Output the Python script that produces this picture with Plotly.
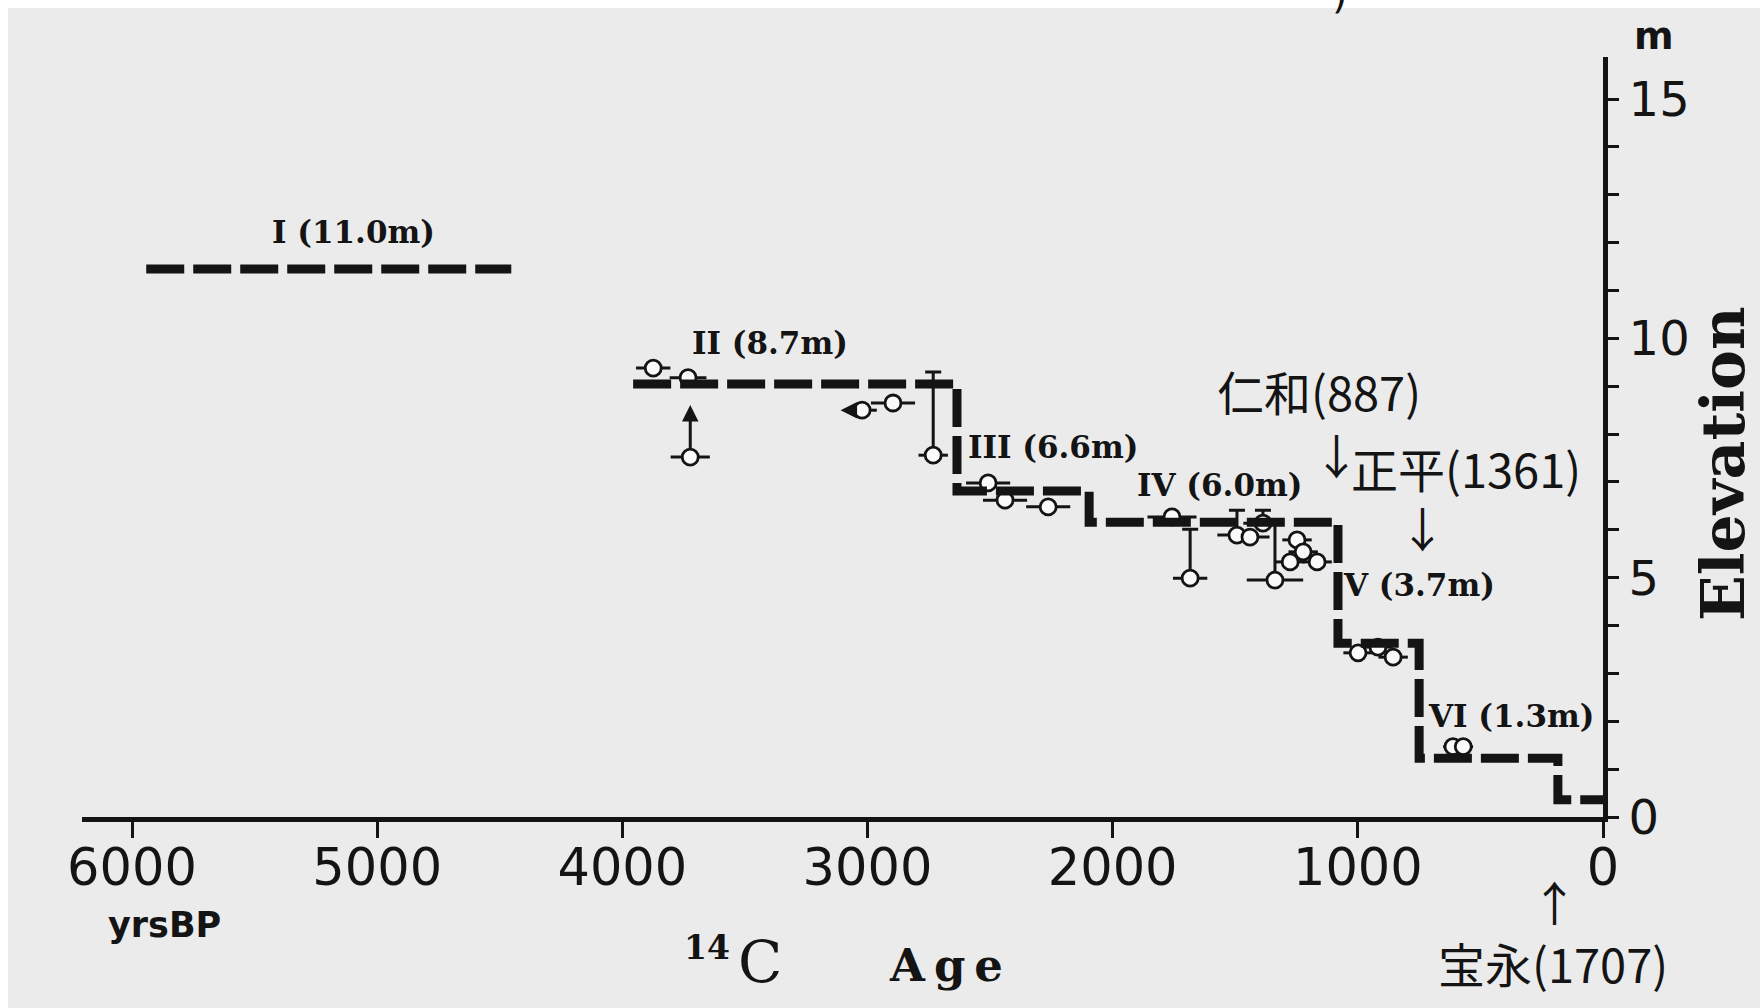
import plotly.graph_objects as go

# ---------------- data ----------------
# stage I (isolated dashed level)
stageI_age = [5942, 4453]
stageI_elev = [11.45, 11.45]

# stepped dashed sea-level / uplift curve, stages II .. VI and present
step_age = [3956, 2635, 2635, 2096, 2096, 1081, 1081, 750, 750, 184, 184, 0]
step_elev = [9.05, 9.05, 6.81, 6.81, 6.16, 6.16, 3.63, 3.63, 1.23, 1.23, 0.36, 0.36]

# dated samples (14C age yrs BP, elevation m, +/- age error)
pt_age = [3874, 3732, 3723, 3022, 2896, 2732, 2508, 2439, 2263, 1758, 1684,
          1493, 1440, 1387, 1248, 1223, 1276, 1166, 1338, 999, 918, 856, 612, 570]
pt_elev = [9.38, 9.18, 7.52, 8.50, 8.65, 7.56, 6.98, 6.62, 6.48, 6.27, 4.99,
           5.89, 5.85, 6.14, 5.79, 5.54, 5.33, 5.33, 4.95, 3.43, 3.55, 3.34, 1.47, 1.47]
pt_err = [70, 75, 80, 60, 90, 60, 90, 90, 90, 100, 70,
          80, 80, 80, 60, 60, 60, 60, 115, 60, 60, 60, 40, 40]

# samples with an upper-limit bar (age, elevation, length of bar upward)
bar_age = [2732, 1684, 1338, 1493, 1387]
bar_elev = [7.56, 4.99, 4.95, 5.89, 6.14]
bar_up = [1.74, 1.02, 1.19, 0.52, 0.27]

# arrows on samples: (from age, from elev) -> (to age, to elev)
arrow_from_age = [3723, 3022]
arrow_from_elev = [7.52, 8.50]
arrow_to_age = [3723, 3110]
arrow_to_elev = [8.61, 8.50]

# stage labels
stage_text = ["I (11.0m)", "II (8.7m)", "III (6.6m)", "IV (6.0m)", "V (3.7m)", "VI (1.3m)"]
stage_age = [5098, 3397, 2243, 1566, 750, 375]
stage_elev = [12.22, 9.90, 7.73, 6.94, 4.85, 2.11]

# historical events (age yrs BP, elevation m where the text sits)
event_text = ["仁和(887)", "↓", "正平(1361)", "↓", "↑", "宝永(1707)"]
event_age = [1158, 1089, 559, 738, 196, 204]
event_elev = [8.92, 7.60, 7.31, 6.06, -1.75, -3.05]

x_tickvals = [6000, 5000, 4000, 3000, 2000, 1000, 0]
x_ticktext = ["6000", "5000", "4000", "3000", "2000", "1000", "0"]
y_tickvals = [0, 5, 10, 15]
y_ticktext = ["0", "5", "10", "15"]

X_RANGE = [6204, 0]
Y_RANGE = [0, 15.88]

# ---------------- style ----------------
BG = "#ebebeb"
INK = "#141414"
W, H = 1760, 1008
PLOT_L, PLOT_R, PLOT_T, PLOT_B = 82, 1603, 57, 817


def px(xp):
    return (xp - PLOT_L) / (PLOT_R - PLOT_L)


def py(yp):
    return (PLOT_B - yp) / (PLOT_B - PLOT_T)


def age_to_paper(a):
    return (X_RANGE[0] - a) / (X_RANGE[0] - X_RANGE[1])


def elev_to_paper(e):
    return (e - Y_RANGE[0]) / (Y_RANGE[1] - Y_RANGE[0])


fig = go.Figure()

# upper-limit bars
fig.add_trace(go.Scatter(
    x=bar_age, y=bar_elev, mode="markers",
    marker=dict(size=1, color="rgba(0,0,0,0)"),
    error_y=dict(type="data", symmetric=False, array=bar_up,
                 arrayminus=[0] * len(bar_up), color=INK, thickness=3, width=8),
    hoverinfo="skip",
))

# samples with horizontal age error
fig.add_trace(go.Scatter(
    x=pt_age, y=pt_elev, mode="markers",
    marker=dict(symbol="circle", size=16, color="#fafafa",
                line=dict(color=INK, width=2.8)),
    error_x=dict(type="data", array=pt_err, color=INK, thickness=3, width=0),
))

# stepped dashed curve
dash = "38px,9px"
fig.add_trace(go.Scatter(
    x=stageI_age, y=stageI_elev, mode="lines",
    line=dict(color=INK, width=9, dash=dash), cliponaxis=False,
))
fig.add_trace(go.Scatter(
    x=step_age, y=step_elev, mode="lines",
    line=dict(color=INK, width=9, dash=dash), cliponaxis=False,
))

annotations = []
for fa, fe, ta, te in zip(arrow_from_age, arrow_from_elev, arrow_to_age, arrow_to_elev):
    annotations.append(dict(
        x=ta, y=te, ax=fa, ay=fe, xref="x", yref="y", axref="x", ayref="y",
        text="", showarrow=True, arrowhead=2, arrowsize=1.1, arrowwidth=3,
        arrowcolor=INK, startstandoff=7, standoff=0,
    ))

for t, a, e in zip(stage_text, stage_age, stage_elev):
    annotations.append(dict(
        x=a, y=e, xref="x", yref="y", text="<b>%s</b>" % t, showarrow=False,
        xanchor="center", yanchor="middle",
        font=dict(family="DejaVu Serif", size=31, color=INK),
    ))

# event labels: positioned through the axis ranges (paper refs so that the
# ones below the axis are not hidden)
for t, a, e in zip(event_text, event_age, event_elev):
    annotations.append(dict(
        x=age_to_paper(a), y=elev_to_paper(e), xref="paper", yref="paper",
        text=t, showarrow=False, xanchor="center", yanchor="middle",
        font=dict(family="Noto Sans CJK JP", size=47, color=INK),
    ))


def label(xp, yp, text, family, size, angle=0):
    return dict(x=px(xp), y=py(yp), xref="paper", yref="paper", text=text,
                showarrow=False, xanchor="center", yanchor="middle", textangle=angle,
                font=dict(family=family, size=size, color=INK))


annotations += [
    label(164, 925, "<b>yrsBP</b>", "DejaVu Sans", 35),
    label(707, 947, "<b>14</b>", "DejaVu Serif", 33),
    label(760, 962, "C", "DejaVu Serif", 58),
    label(946, 966, "<b>A\u2009g\u2009e</b>", "DejaVu Serif", 45),
    label(1723, 464, "<b>Elevation</b>", "DejaVu Serif", 60, angle=-90),
    label(1654, 36, "<b>m</b>", "DejaVu Sans", 38),
    label(1340, -6, ")", "DejaVu Sans", 40),
]

shapes = [
    # white scan border strips (top and left)
    dict(type="rect", xref="paper", yref="paper", x0=px(-5), x1=px(W + 5),
         y0=py(8), y1=py(-5), fillcolor="white", line=dict(width=0), layer="below"),
    dict(type="rect", xref="paper", yref="paper", x0=px(-5), x1=px(8),
         y0=py(H + 5), y1=py(-5), fillcolor="white", line=dict(width=0), layer="below"),
]

fig.update_layout(
    width=W, height=H,
    margin=dict(l=PLOT_L, r=W - PLOT_R, t=PLOT_T, b=H - PLOT_B, pad=0),
    paper_bgcolor=BG, plot_bgcolor=BG,
    showlegend=False,
    annotations=annotations,
    shapes=shapes,
    xaxis=dict(
        range=X_RANGE, tickvals=x_tickvals, ticktext=x_ticktext,
        showline=True, linewidth=5, linecolor=INK,
        ticks="outside", ticklen=16, tickwidth=3, tickcolor=INK,
        tickfont=dict(family="DejaVu Sans", size=51, color=INK),
        ticklabelstandoff=-14,
        showgrid=False, zeroline=False,
    ),
    yaxis=dict(
        range=Y_RANGE, side="right", tickvals=y_tickvals, ticktext=y_ticktext,
        showline=True, linewidth=5, linecolor=INK,
        ticks="outside", ticklen=11, tickwidth=3, tickcolor=INK,
        minor=dict(dtick=1, ticks="outside", ticklen=11, tickwidth=3, tickcolor=INK),
        tickfont=dict(family="DejaVu Sans", size=48, color=INK),
        ticklabelstandoff=0,
        showgrid=False, zeroline=False,
    ),
)

fig.write_html(
    "out.html",
    config={"displayModeBar": False},
    post_script="document.body.style.margin='0';"
                "document.body.style.background='%s';"
                "document.documentElement.style.overflow='hidden';" % BG,
)
